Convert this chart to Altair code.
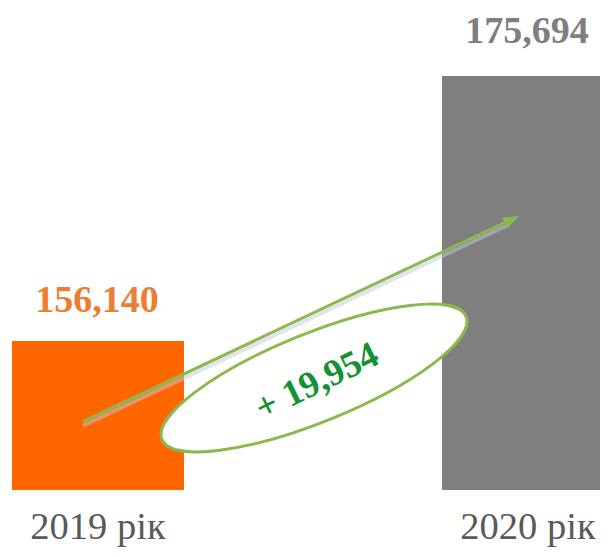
import altair as alt
import pandas as pd

# ---- data ----
years = ["2019 рік", "2020 рік"]
values = [156140, 175694]
value_labels = ["156,140", "175,694"]
diff_label = "+ 19,954"

# ---- styles ----
BAR_COLORS = ["#FF6600", "#7F7F7F"]
ORANGE_TXT = "#ED7D31"
GRAY_TXT = "#7F7F7F"
CAT_TXT = "#595959"
GREEN_LINE = "#8CB94F"
GREEN_TXT = "#149233"
SERIF = "Liberation Serif"

# value scale (axis starts above zero as in the original)
Y_BASE = 145146
Y_TOP = 181302

# annotation anchors (in value units)
ARROW_START = 150185
ARROW_END = 165364
ELLIPSE_AT = 153410
DIFF_AT = 153115

bars_df = pd.DataFrame({"year": years, "value": values, "label": value_labels})
arrow_df = pd.DataFrame({"year": [years[0]], "year2": [years[1]],
                         "value": [ARROW_START], "value2": [ARROW_END]})
head_df = pd.DataFrame({"year": [years[1]], "value": [ARROW_END]})
ell_df = pd.DataFrame({"year": [years[0]], "value": [ELLIPSE_AT]})
diff_df = pd.DataFrame({"year": [years[0]], "value": [DIFF_AT], "label": [diff_label]})

AXIS = alt.Axis(title=None, domain=False, ticks=False, tickSize=0, grid=False,
                labelFont=SERIF, labelFontSize=38.5, labelColor=CAT_TXT,
                labelPadding=48, labelBaseline="alphabetic", labelAngle=0)


def x_enc():
    return alt.X("year:N", sort=years,
                 scale=alt.Scale(paddingInner=0.8, paddingOuter=0.09767, align=0.6548),
                 axis=AXIS)


def y_enc():
    return alt.Y("value:Q", scale=alt.Scale(domain=[Y_BASE, Y_TOP], nice=False, zero=False),
                 axis=None)


bars = alt.Chart(bars_df).mark_bar(width=172).encode(
    x=x_enc(), y=y_enc(), y2=alt.datum(Y_BASE),
    color=alt.Color("year:N", scale=alt.Scale(domain=years, range=BAR_COLORS), legend=None),
)

lbl_2019 = alt.Chart(bars_df).transform_filter(alt.datum.year == years[0]).mark_text(
    font=SERIF, fontWeight="bold", fontSize=38, baseline="alphabetic", align="center",
    color=ORANGE_TXT, yOffset=-29, xOffset=-1,
).encode(x=x_enc(), y=y_enc(), text="label:N")

lbl_2020 = alt.Chart(bars_df).transform_filter(alt.datum.year == years[1]).mark_text(
    font=SERIF, fontWeight="bold", fontSize=38, baseline="alphabetic", align="center",
    color=GRAY_TXT, yOffset=-33, xOffset=-1,
).encode(x=x_enc(), y=y_enc(), text="label:N")

ELLIPSE_PATH = ("M1,0 C1,0.149 0.552,0.27 0,0.27 C-0.552,0.27 -1,0.149 -1,0 "
                "C-1,-0.149 -0.552,-0.27 0,-0.27 C0.552,-0.27 1,-0.149 1,0 Z")

ellipse = alt.Chart(ell_df).mark_point(
    shape=ELLIPSE_PATH, size=328 * 328, angle=338, filled=True, fill="white",
    fillOpacity=1, stroke=GREEN_LINE, strokeWidth=3, opacity=1, xOffset=216,
).encode(x=x_enc(), y=y_enc())

shadow = alt.Chart(arrow_df).mark_rule(
    color="#C5CAD8", strokeWidth=4, opacity=0.5,
    xOffset=-15, x2Offset=-20, yOffset=4, y2Offset=9,
).encode(x=x_enc(), x2="year2:N", y=y_enc(), y2="value2:Q")

arrow = alt.Chart(arrow_df).mark_rule(
    color=GREEN_LINE, strokeWidth=3,
    xOffset=-15, x2Offset=-20, y2Offset=5,
).encode(x=x_enc(), x2="year2:N", y=y_enc(), y2="value2:Q")

head = alt.Chart(head_df).mark_point(
    shape="M1,0 L-1,-0.75 L-1,0.75 Z", size=256, angle=334.8, filled=True,
    color=GREEN_LINE, opacity=1, xOffset=-16, yOffset=3.4,
).encode(x=x_enc(), y=y_enc())

diff = alt.Chart(diff_df).mark_text(
    font=SERIF, fontWeight="bold", fontSize=37, angle=334, align="center",
    baseline="middle", color=GREEN_TXT, xOffset=219,
).encode(x=x_enc(), y=y_enc(), text="label:N")

chart = alt.layer(bars, ellipse, shadow, arrow, head, diff, lbl_2019, lbl_2020).resolve_scale(
    color="independent"
).properties(
    width=600, height=490,
    autosize=alt.AutoSizeParams(type="none"),
    padding={"left": -8, "top": -8, "right": 0, "bottom": 57},
    background="white",
).configure_view(strokeWidth=0)

chart.save("out.html", embed_options={"renderer": "svg", "actions": False})
